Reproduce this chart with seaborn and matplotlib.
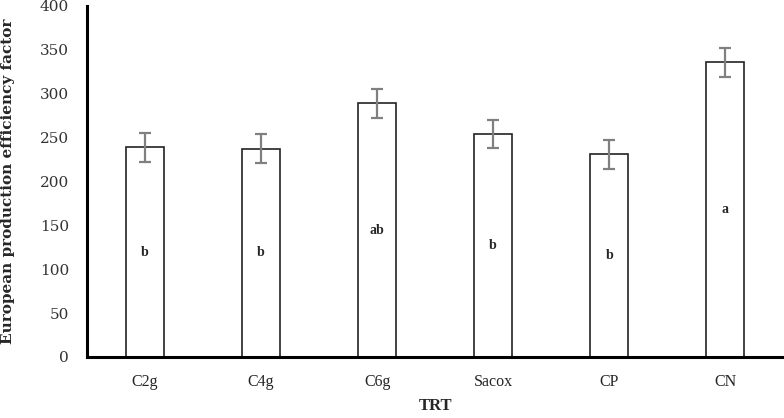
import numpy as np
import pandas as pd
import matplotlib
matplotlib.use('Agg')
import matplotlib.pyplot as plt
import seaborn as sns

# data
treatments = ['C2g', 'C4g', 'C6g', 'Sacox', 'CP', 'CN']
epef = [239, 237, 289, 254, 231, 336]
epef_err = [16.5, 16.5, 16.5, 16.5, 16.5, 16.5]
letters = ['b', 'b', 'ab', 'b', 'b', 'a']

df = pd.DataFrame({'TRT': treatments, 'EPEF': epef})

sns.set_theme(style='white')
plt.rcParams['font.family'] = ['Liberation Serif', 'DejaVu Serif']

fig = plt.figure(figsize=(7.84, 4.18), dpi=100)
ax = fig.add_axes([0.111, 0.146, 0.888, 0.84])

sns.barplot(data=df, x='TRT', y='EPEF', color='white', edgecolor='#222222',
            linewidth=1.2, width=0.33, errorbar=None, ax=ax)
ax.errorbar(np.arange(len(treatments)), epef, yerr=epef_err, fmt='none',
            ecolor='#808080', elinewidth=1.6, capsize=4.5, capthick=1.6)

# significance letters in the middle of the bars
for i, (v, s) in enumerate(zip(epef, letters)):
    ax.text(i, v / 2, s, ha='center', va='center', fontsize=10, fontweight='bold')

ax.set_ylim(0, 400)
ax.set_yticks(np.arange(0, 401, 50))
ax.set_xlim(-0.5, len(treatments) - 0.5)
for lab in ax.get_yticklabels():
    lab.set_fontfamily('DejaVu Serif')
    lab.set_fontsize(11)
    lab.set_color('#333333')
for lab in ax.get_xticklabels():
    lab.set_fontsize(11.5)
ax.tick_params(axis='both', length=0, pad=12)
ax.tick_params(axis='y', pad=13)

ax.set_xlabel('TRT', fontsize=12, fontweight='bold', labelpad=6)
ax.set_ylabel('European production efficiency factor', fontsize=11, fontweight='bold',
              family='DejaVu Serif', labelpad=18)

sns.despine(ax=ax)
ax.spines['left'].set_linewidth(2.2)
ax.spines['bottom'].set_linewidth(2.2)
ax.spines['left'].set_color('black')
ax.spines['bottom'].set_color('black')

fig.savefig('out.png', dpi=100)
